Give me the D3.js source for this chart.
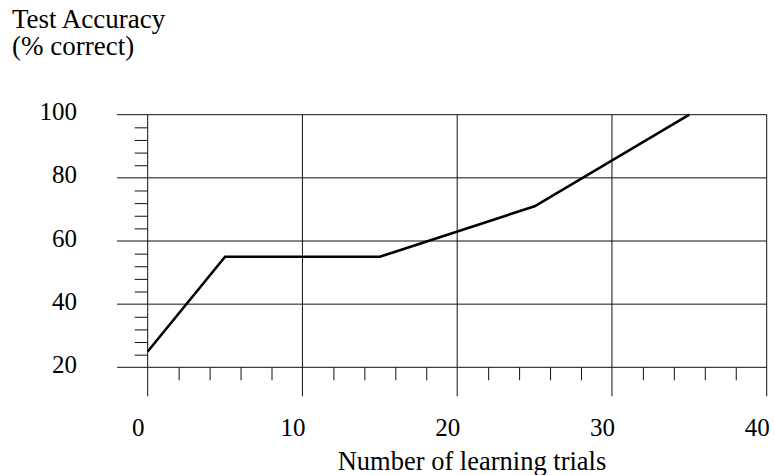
<!DOCTYPE html>
<html>
<head>
<meta charset="utf-8">
<script src="https://cdn.jsdelivr.net/npm/d3@7"></script>
<style>
  html, body { margin: 0; padding: 0; background: #fff; }
  svg { display: block; font-family: "Liberation Serif", "Times New Roman", serif; }
</style>
</head>
<body>
<svg id="chart" width="775" height="475"></svg>
<script>
// Learning curve: test accuracy against number of learning trials
const trials   = [0, 5, 15, 25, 35];
const accuracy = [25, 55, 55, 71, 100];

const xMajorTicks = [0, 10, 20, 30, 40];
const xMinorTicks = [2, 4, 6, 8, 12, 14, 16, 18, 22, 24, 26, 28, 32, 34, 36, 38];
const yMajorTicks = [20, 40, 60, 80, 100];
const yMinorTicks = [24, 28, 32, 36, 44, 48, 52, 56, 64, 68, 72, 76, 84, 88, 92, 96];

const yTitleLines = ["Test Accuracy", "(% correct)"];
const xTitle = "Number of learning trials";

const svg = d3.select("#chart");

const x = d3.scaleLinear().domain([0, 40]).range([147.7, 766.7]);
const y = d3.scaleLinear().domain([20, 100]).range([367.3, 114.7]);

const gridLeft = 117;      // horizontal grid lines start left of the axis
const drop = 29;           // major x ticks hang below the baseline
const minorLen = 13;
const serif = "'Liberation Serif', 'Times New Roman', serif";

// horizontal grid lines
svg.append("g")
  .selectAll("line")
  .data(yMajorTicks)
  .join("line")
  .attr("x1", gridLeft)
  .attr("x2", x(40))
  .attr("y1", d => y(d))
  .attr("y2", d => y(d))
  .attr("stroke", "#111")
  .attr("stroke-width", 1);

// vertical grid lines, extending below the baseline as major ticks
svg.append("g")
  .selectAll("line")
  .data(xMajorTicks)
  .join("line")
  .attr("x1", d => x(d))
  .attr("x2", d => x(d))
  .attr("y1", y(100))
  .attr("y2", y(20) + drop)
  .attr("stroke", "#111")
  .attr("stroke-width", 1);

// x minor ticks
const xMinorAxis = d3.axisBottom(x)
  .tickValues(xMinorTicks)
  .tickSize(minorLen)
  .tickFormat("");
svg.append("g")
  .attr("transform", `translate(0,${y(20)})`)
  .call(xMinorAxis)
  .call(g => g.select(".domain").remove())
  .call(g => g.selectAll("line").attr("stroke", "#111"));

// y minor ticks
const yMinorAxis = d3.axisLeft(y)
  .tickValues(yMinorTicks)
  .tickSize(minorLen)
  .tickFormat("");
svg.append("g")
  .attr("transform", `translate(${x(0)},0)`)
  .call(yMinorAxis)
  .call(g => g.select(".domain").remove())
  .call(g => g.selectAll("line").attr("stroke", "#111"));

// x tick labels
const xLabelAxis = d3.axisBottom(x)
  .tickValues(xMajorTicks)
  .tickSize(0)
  .tickPadding(0)
  .tickFormat(d3.format("d"));
svg.append("g")
  .attr("transform", `translate(0,${y(20)})`)
  .call(xLabelAxis)
  .call(g => g.select(".domain").remove())
  .call(g => g.selectAll("text")
    .attr("x", -10)
    .attr("y", 69)
    .attr("dy", null)
    .attr("fill", "#000")
    .style("font-size", "25px")
    .style("font-family", serif));

// y tick labels
const yLabelAxis = d3.axisLeft(y)
  .tickValues(yMajorTicks)
  .tickSize(0)
  .tickPadding(0)
  .tickFormat(d3.format("d"));
svg.append("g")
  .attr("transform", `translate(77,0)`)
  .call(yLabelAxis)
  .call(g => g.select(".domain").remove())
  .call(g => g.selectAll("text")
    .attr("x", 0)
    .attr("dy", 5)
    .attr("fill", "#000")
    .style("font-size", "25px")
    .style("font-family", serif));

// data line
const line = d3.line()
  .x((d, i) => x(trials[i]))
  .y(d => y(d));
svg.append("path")
  .datum(accuracy)
  .attr("d", line)
  .attr("fill", "none")
  .attr("stroke", "#000")
  .attr("stroke-width", 2.6)
  .attr("stroke-linejoin", "miter");

// axis titles
svg.append("g")
  .selectAll("text")
  .data(yTitleLines)
  .join("text")
  .attr("x", 12)
  .attr("y", (d, i) => 27.5 + i * 27.5)
  .style("font-size", "27px")
  .text(d => d);

svg.append("text")
  .attr("x", 472)
  .attr("y", 470)
  .attr("text-anchor", "middle")
  .style("font-size", "26.5px")
  .text(xTitle);
</script>
</body>
</html>
